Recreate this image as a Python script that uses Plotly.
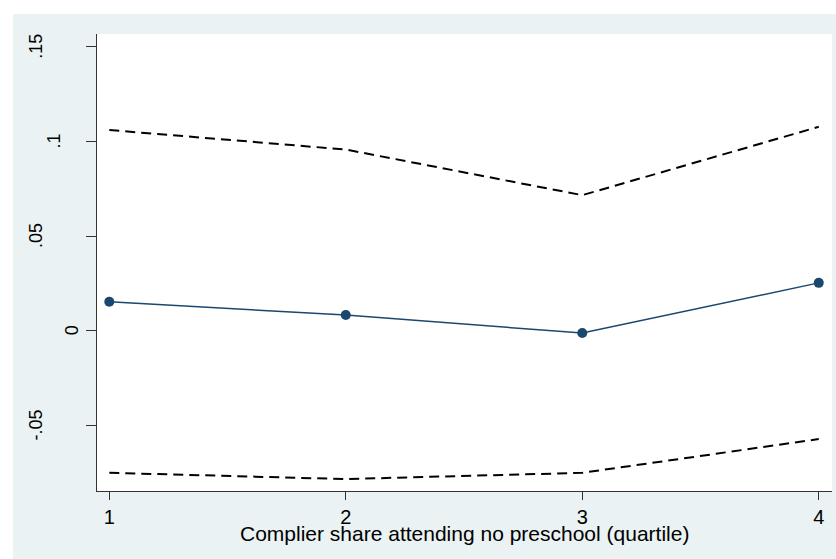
import plotly.graph_objects as go

# Quartile of complier share attending no preschool
quartiles = [1, 2, 3, 4]
estimate = [0.0153, 0.0083, -0.0012, 0.0253]
ci_upper = [0.1060, 0.0957, 0.0716, 0.1077]
ci_lower = [-0.0750, -0.0783, -0.0750, -0.0572]

ytick_vals = [0.15, 0.10, 0.05, 0.0, -0.05]
ytick_text = [".15", ".1", ".05", "0", "-.05"]
# horizontal centre (px) of each rotated y label
ytick_px = [36, 54, 36, 71.5, 36]

xtick_vals = [1, 2, 3, 4]
xtick_text = ["1", "2", "3", "4"]
x_title = "Complier share attending no preschool (quartile)"

W, H = 836, 559
ML, MR, MT, MB = 97, 4, 34, 68
PW, PH = W - ML - MR, H - MT - MB

NAVY = "#1A476F"
REGION = "#EAF2F3"
FONT = "Liberation Sans, Arial, sans-serif"

fig = go.Figure()

fig.add_trace(go.Scatter(
    x=quartiles, y=ci_upper, mode="lines",
    line=dict(color="black", width=2, dash="10px,6px"),
    hoverinfo="skip", showlegend=False))
fig.add_trace(go.Scatter(
    x=quartiles, y=ci_lower, mode="lines",
    line=dict(color="black", width=2, dash="10px,6px"),
    hoverinfo="skip", showlegend=False))
fig.add_trace(go.Scatter(
    x=quartiles, y=estimate, mode="lines+markers",
    line=dict(color=NAVY, width=1.5),
    marker=dict(color=NAVY, size=10),
    showlegend=False))


def px_x(p):
    return (p - ML) / PW


def px_y(p):
    return (H - MB - p) / PH


shapes = [
    # graph region
    dict(type="rect", xref="paper", yref="paper", layer="below",
         x0=px_x(13), x1=px_x(W + 5), y0=px_y(H + 5), y1=px_y(14),
         fillcolor=REGION, line=dict(width=0)),
    # plot region
    dict(type="rect", xref="paper", yref="paper", layer="below",
         x0=0, x1=1, y0=0, y1=1, fillcolor="white", line=dict(width=0)),
]

annotations = []
for v, t, p in zip(ytick_vals, ytick_text, ytick_px):
    annotations.append(dict(
        x=px_x(p), xref="paper", y=v, yref="y", text=t, textangle=-90,
        showarrow=False, xanchor="center", yanchor="middle",
        font=dict(family=FONT, size=18, color="black")))
annotations.append(dict(
    x=px_x(464), xref="paper", y=px_y(533), yref="paper", text=x_title,
    showarrow=False, xanchor="center", yanchor="middle",
    font=dict(family=FONT, size=21, color="black")))

fig.update_layout(
    width=W, height=H,
    margin=dict(l=ML, r=MR, t=MT, b=MB, pad=0),
    paper_bgcolor="white",
    plot_bgcolor="rgba(0,0,0,0)",
    shapes=shapes,
    annotations=annotations,
    font=dict(family=FONT, size=18, color="black"),
    xaxis=dict(
        range=[0.948, 4.056], tickvals=xtick_vals, ticktext=xtick_text,
        showgrid=False, zeroline=False, showline=True, linecolor="#333333",
        linewidth=1.3, ticks="outside", ticklen=8, tickcolor="#333333",
        tickwidth=1.2, tickfont=dict(family=FONT, size=20, color="black")),
    yaxis=dict(
        range=[-0.0846, 0.1567], tickvals=ytick_vals, showticklabels=False,
        showgrid=False, zeroline=False, showline=True, linecolor="#333333",
        linewidth=1.3, ticks="outside", ticklen=10, tickcolor="#333333",
        tickwidth=1.2),
)

fig.write_html("out.html")
